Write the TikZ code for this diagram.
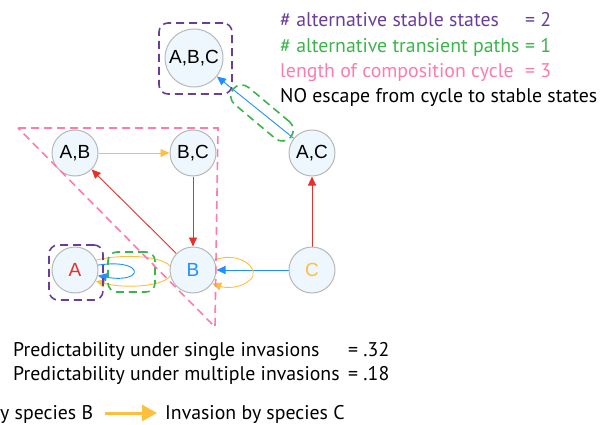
\documentclass[tikz,border=0pt]{standalone}
\usepackage{fontspec}
\setmainfont{PT Sans}
\newfontfamily\nodefont{Liberation Sans}
\usetikzlibrary{arrows.meta}
\definecolor{cpurple}{HTML}{6A3D9A}
\definecolor{cgreen}{HTML}{3AB54A}
\definecolor{cpink}{HTML}{FF7BAC}
\definecolor{cred}{HTML}{E8302A}
\definecolor{cblue}{HTML}{1E90FF}
\definecolor{corange}{HTML}{FFBE3B}
\definecolor{cnodefill}{HTML}{EEF6FE}
\definecolor{cnodedraw}{HTML}{B8B8B8}
\pgfdeclarelayer{bg}
\pgfsetlayers{bg,main}
\tikzset{
  state/.style={circle, draw=cnodedraw, fill=cnodefill, line width=1pt, minimum size=46pt, inner sep=0pt, font=\nodefont\fontsize{19}{19}\selectfont},
  bigstate/.style={state, minimum size=58pt},
  tr/.style={-{Triangle[length=9pt,width=8pt]}, line width=0.9pt},
  dashbox/.style={dash pattern=on 8pt off 5pt, line width=1.6pt, rounded corners=9pt, minimum width=#1},
  lbl/.style={anchor=base west, inner sep=0pt, font=\fontsize{19.8}{20}\selectfont},
}
\begin{document}
\begin{tikzpicture}[x=1pt,y=-1pt]
\useasboundingbox (0,0) rectangle (605,425);
% nodes
\node[bigstate] (ABC) at (194,58) {A,B,C};
\node[state] (AB) at (75,153) {A,B};
\node[state] (BC) at (193,153) {B,C};
\node[state] (AC) at (312,153) {A,C};
\node[state, text=cred] (A) at (75,270) {A};
\node[state, text=cblue] (B) at (193,270) {B};
\node[state, text=corange] (C) at (312,270) {C};
% edges
\begin{pgfonlayer}{bg}
\draw[tr, corange] (AB) -- (BC);
\draw[tr, cred] (BC) -- (B);
\draw[tr, cred] (B) -- (AB);
\draw[tr, cred] (C) -- (AC);
\draw[tr, cblue] (C) -- (B);
\draw[tr, cblue] (AC) -- (ABC);
\draw[tr, corange] (A.25) .. controls (125,253) and (172,256) .. (172,271) .. controls (172,287) and (125,289) .. (A.-28);
\draw[tr, cblue] (A.12) .. controls (145,258) and (145,284) .. (A.-14);
\draw[tr, corange] (B.25) .. controls (240,250) and (262,270) .. (250,280) .. controls (240,289) and (225,288) .. (B.-35);
\end{pgfonlayer}
% dashed groupings
\node[draw=cpurple, dashbox=73pt, minimum height=71pt] (grpABC) at (195.5,58.5) {};
\node[draw=cpurple, dashbox=54pt, minimum height=55pt] (grpA) at (76,272.5) {};
\node[draw=cgreen, dashbox=47pt, minimum height=40pt] (grpAB) at (131.5,272) {};
\node[draw=cgreen, dashbox=75pt, minimum height=22pt, rounded corners=11pt, rotate=-40] (grpAC) at (262,113) {};
\draw[cpink, dash pattern=on 8pt off 5pt, line width=1.6pt] (18,128) -- (218,128) -- (215,327) -- cycle;
% summary text
\node[lbl, text=cpurple] (t1) at (280,27) {\# alternative stable states};
\node[lbl, text=cpurple] (t1v) at (525,27) {= 2};
\node[lbl, text=cgreen] (t2) at (280,53) {\# alternative transient paths};
\node[lbl, text=cgreen] (t2v) at (525,53) {= 1};
\node[lbl, text=cpink] (t3) at (280,78) {length of composition cycle};
\node[lbl, text=cpink] (t3v) at (525,78) {= 3};
\node[lbl] (t4) at (280,103) {NO escape from cycle to stable states};
\node[lbl] (p1) at (13,356) {Predictability under single invasions};
\node[lbl] (p1v) at (348,356) {= .32};
\node[lbl] (p2) at (13,380) {Predictability under multiple invasions};
\node[lbl] (p2v) at (348,380) {= .18};
% legend
\node[lbl] (legB) at (0,419) {y species B};
\coordinate (legS) at (105,413);
\coordinate (legE) at (157,413);
\draw[corange, line width=3pt, -{Triangle[length=15pt,width=16pt]}] (legS) -- (legE);
\node[lbl] (legC) at (165,419) {Invasion by species C};
\end{tikzpicture}
\end{document}
